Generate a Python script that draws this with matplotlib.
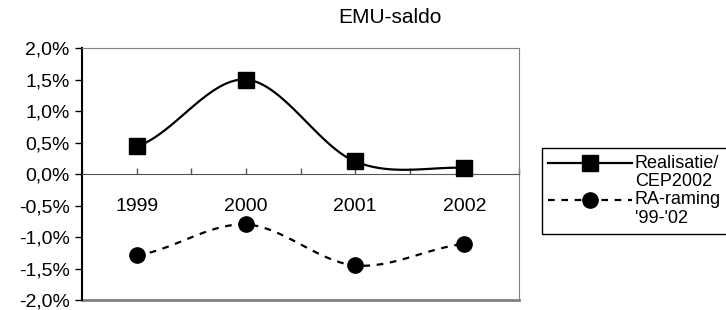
import numpy as np
import matplotlib
matplotlib.use("Agg")
from matplotlib import pyplot as plt
from matplotlib.lines import Line2D
from matplotlib.patches import Rectangle

years = ['1999', '2000', '2001', '2002']
realisatie = [0.44, 1.50, 0.20, 0.10]
ra_raming = [-1.29, -0.80, -1.45, -1.11]
y_ticks = [-2.0, -1.5, -1.0, -0.5, 0.0, 0.5, 1.0, 1.5, 2.0]
legend_labels = [['Realisatie/', 'CEP2002'], ['RA-raming', "'99-'02"]]

plt.rcParams['font.family'] = ['Liberation Sans', 'DejaVu Sans']
fs = 14
W, H = 726, 310


def smooth(xs, ys, n=30):
    # catmull-rom, like Excel's smoothed line
    xs = np.asarray(xs, float)
    ys = np.asarray(ys, float)
    px = np.concatenate([[2 * xs[0] - xs[1]], xs, [2 * xs[-1] - xs[-2]]])
    py = np.concatenate([[ys[0]], ys, [ys[-1]]])
    outx, outy = [], []
    for i in range(1, len(px) - 2):
        t = np.linspace(0, 1, n)
        f = lambda a0, a1, a2, a3: 0.5 * ((2 * a1) + (-a0 + a2) * t
                                         + (2 * a0 - 5 * a1 + 4 * a2 - a3) * t ** 2
                                         + (-a0 + 3 * a1 - 3 * a2 + a3) * t ** 3)
        outx.extend(f(px[i - 1], px[i], px[i + 1], px[i + 2]))
        outy.extend(f(py[i - 1], py[i], py[i + 1], py[i + 2]))
    return np.array(outx), np.array(outy)


fig = plt.figure(figsize=(7.26, 3.10), dpi=100)
ax = fig.add_axes([0.113, 0.032, 0.602, 0.813])

x = np.arange(len(years))
sx, sy = smooth(x, realisatie)
ax.plot(sx, sy, color='black', lw=1.6, zorder=3)
ax.plot(x, realisatie, 's', color='black', ms=11, zorder=4)

sx2, sy2 = smooth(x, ra_raming)
ax.plot(sx2, sy2, color='black', lw=1.6, dashes=(3, 3), zorder=3)
ax.plot(x, ra_raming, 'o', color='black', ms=11, zorder=4)

ax.set_xlim(-0.5, 3.5)
ax.set_ylim(-2.0, 2.0)
ax.set_yticks(y_ticks)
ax.set_yticklabels([('%.1f%%' % v).replace('.', ',') for v in y_ticks])
ax.tick_params(axis='y', direction='out', length=5, width=1, pad=4, labelsize=fs)

ax.set_xticks(x)
ax.set_xticklabels(years)
ax.set_xticks(np.arange(-0.5, 3.6, 0.5), minor=True)
ax.tick_params(axis='x', which='both', direction='in', length=4, width=1,
               pad=17, labelsize=fs, color='#555555')

ax.spines['bottom'].set_position(('data', 0))
ax.spines['bottom'].set_color('#555555')
ax.spines['left'].set_linewidth(1.5)
ax.spines['left'].set_color('black')
ax.spines['top'].set_color('#808080')
ax.spines['right'].set_color('#808080')
ax.plot([0, 1], [0, 0], transform=ax.transAxes, color='#808080', lw=2, clip_on=False)

fig.text(0.537, 0.945, 'EMU-saldo', ha='center', va='center', fontsize=15)

# legend drawn by hand (Excel style: handle at first text line)
fx = lambda px: px / W
fy = lambda py: 1 - py / H
fig.patches.append(Rectangle((fx(542), fy(234)), fx(200), 86 / H, transform=fig.transFigure,
                             fill=False, edgecolor='black', lw=1.0))
styles = [dict(ls='-', marker='s'), dict(ls=(0, (3, 3)), marker='o')]
for i, (lab, st) in enumerate(zip(legend_labels, styles)):
    y0 = 163 + 37 * i
    fig.add_artist(Line2D([fx(548), fx(632)], [fy(y0), fy(y0)], transform=fig.transFigure,
                          color='black', lw=1.6, ls=st['ls']))
    fig.add_artist(Line2D([fx(590)], [fy(y0)], transform=fig.transFigure,
                          color='black', marker=st['marker'], ms=11, ls='none'))
    for j, line in enumerate(lab):
        fig.text(fx(635), fy(y0 + 18.5 * j), line, fontsize=13, ha='left', va='center')

fig.savefig('out.png', dpi=100)
